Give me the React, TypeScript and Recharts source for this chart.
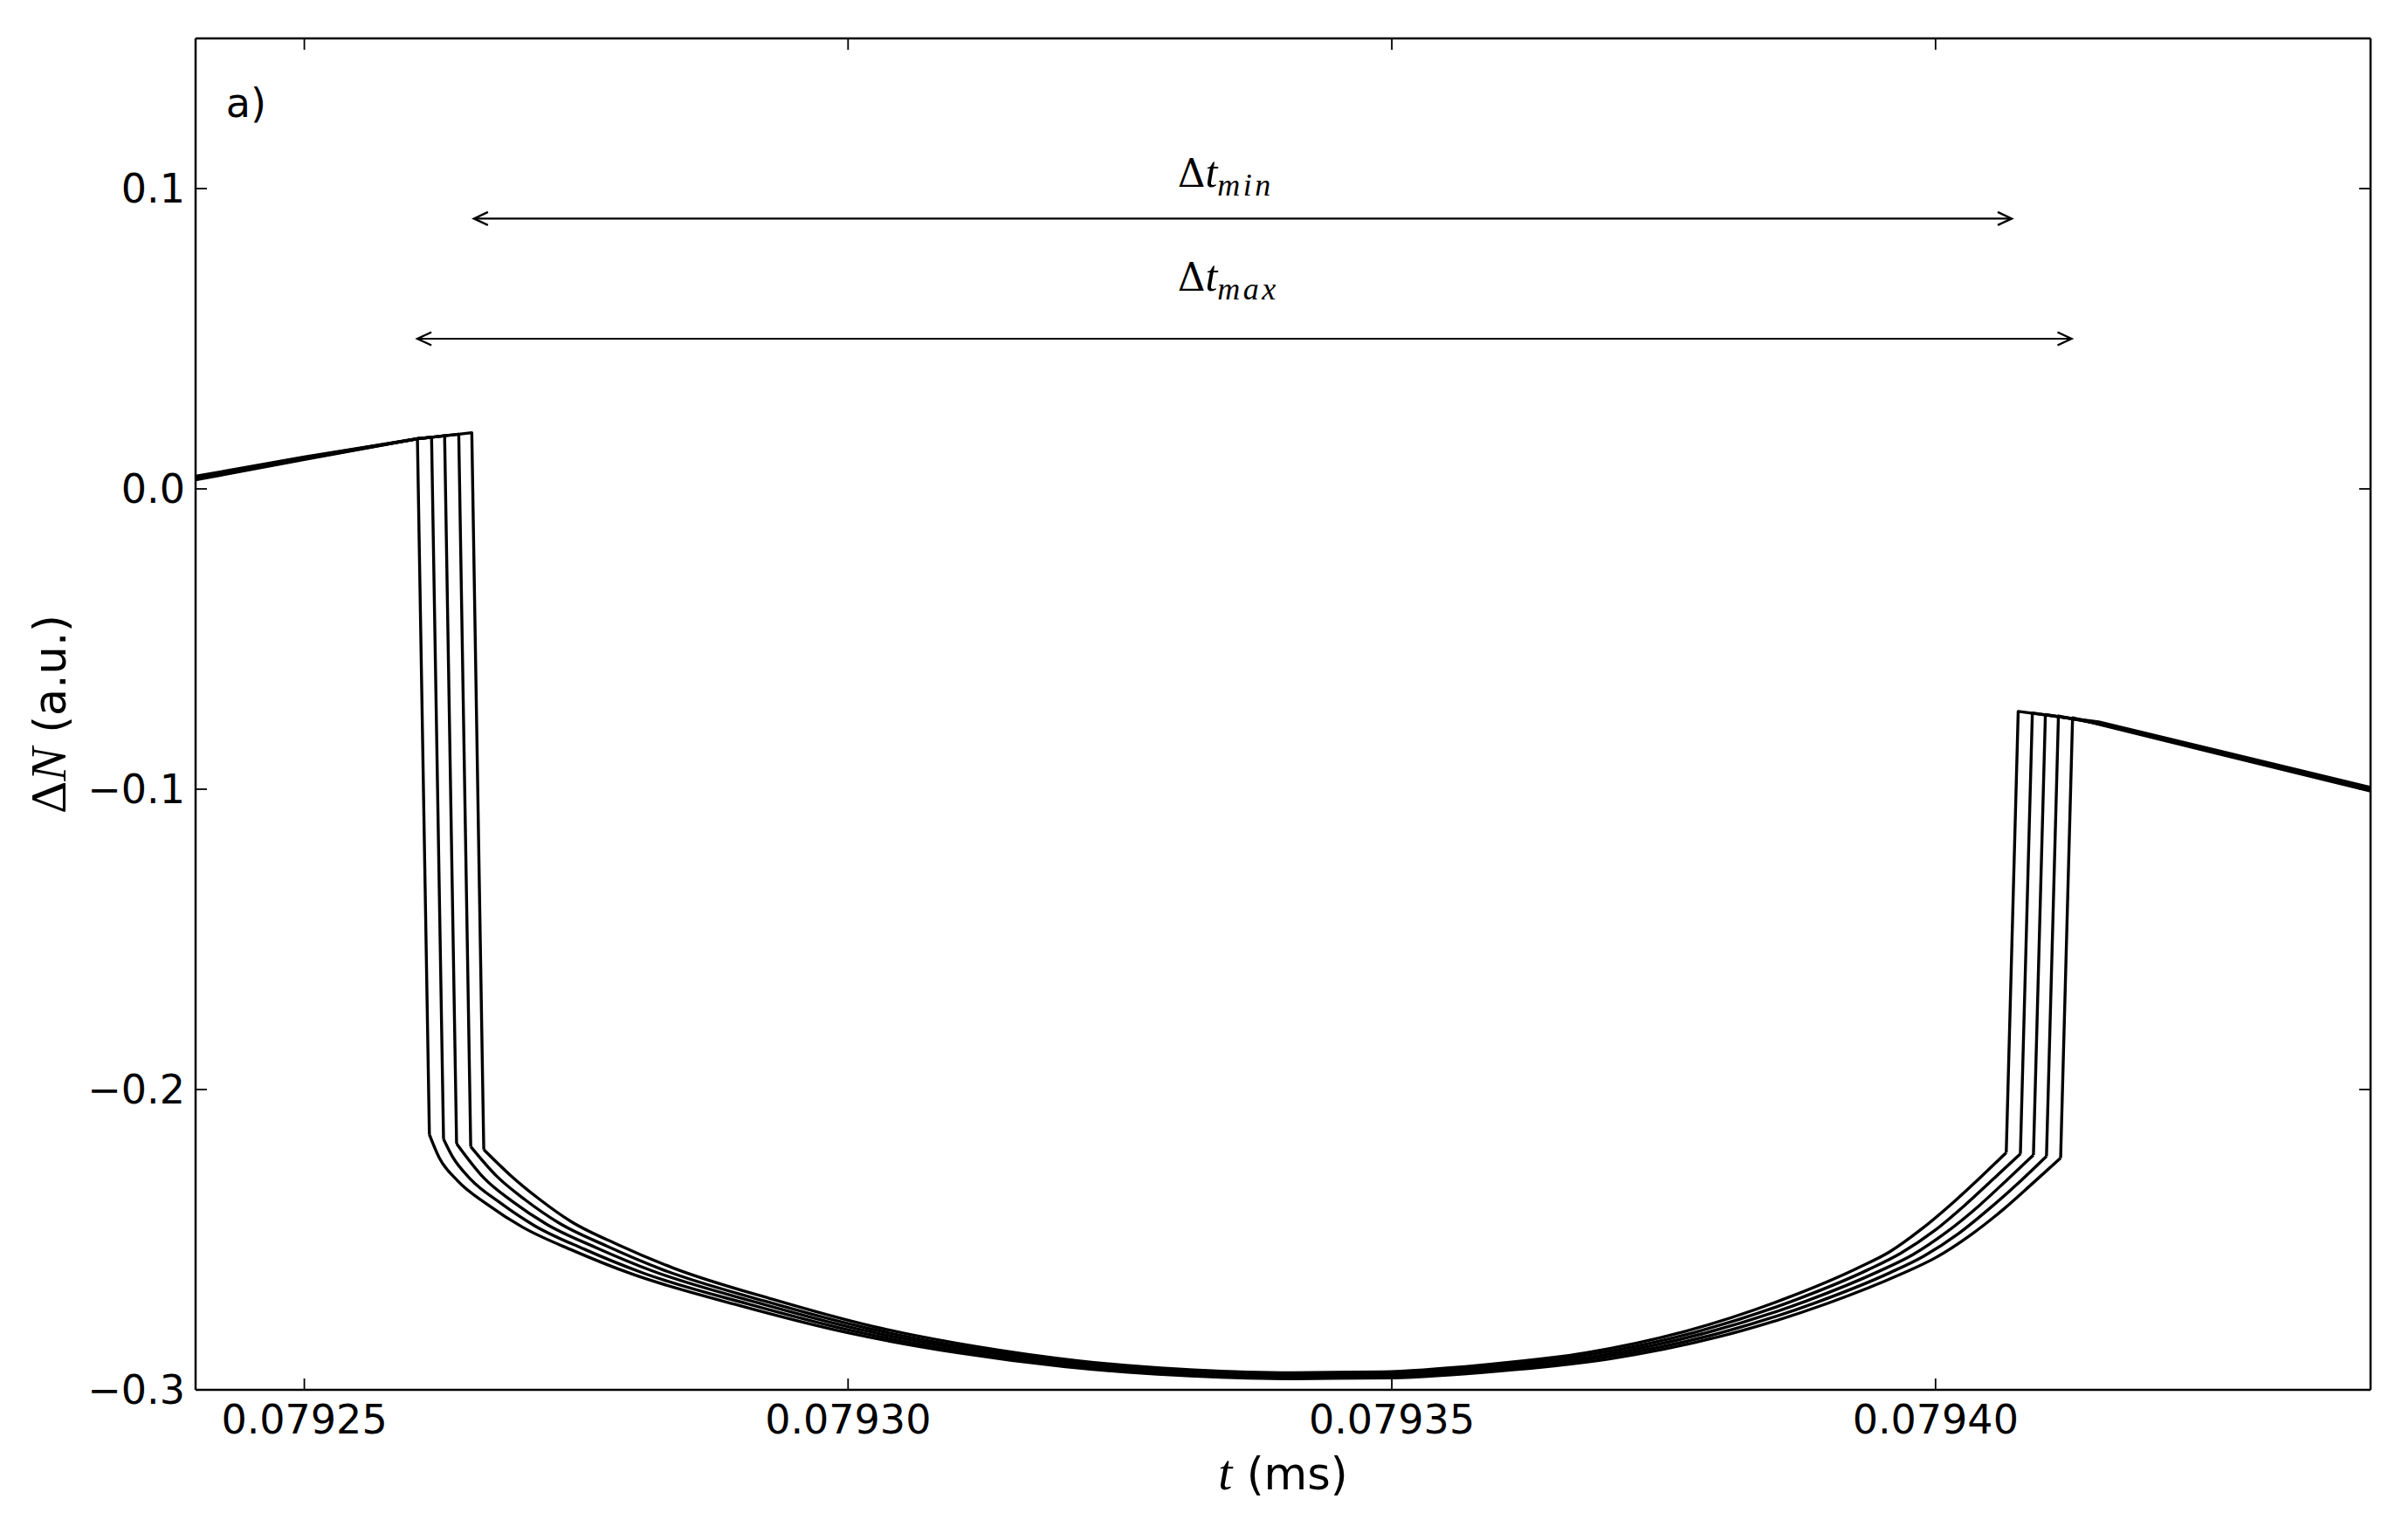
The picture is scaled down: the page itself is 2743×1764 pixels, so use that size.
import React from 'react';
import { LineChart, Line, XAxis, YAxis, ReferenceLine, ReferenceDot } from 'recharts';

// ---- axes ----
const xDomain = [0.07924, 0.07944];
const yDomain = [-0.3, 0.15];
const xTicks = [0.07925, 0.0793, 0.07935, 0.0794];
const xTickLabels = ['0.07925', '0.07930', '0.07935', '0.07940'];
const yTicks = [0.1, 0, -0.1, -0.2, -0.3];
const yTickLabels = ['0.1', '0.0', '\u22120.1', '\u22120.2', '\u22120.3'];

// ---- series: [t (ms), ΔN (a.u.)] ----
const curve0 = [
  [0.07924, 0.003], [0.07925, 0.0098], [0.0792604, 0.0167],
  [0.0792615, -0.215], [0.0792624, -0.2227], [0.0792641, -0.2304], [0.0792668, -0.2382],
  [0.0792701, -0.2459], [0.0792747, -0.2536], [0.0792801, -0.2614], [0.07929, -0.2719],
  [0.0793, -0.281], [0.07931, -0.2876], [0.07932, -0.2923], [0.07933, -0.2951],
  [0.07934, -0.2963], [0.07935, -0.296], [0.07936, -0.2937], [0.07937, -0.2897],
  [0.07938, -0.2824], [0.07939, -0.2713], [0.0793968, -0.2615], [0.0794, -0.256],
  [0.0794032, -0.2485], [0.0794062, -0.24], [0.079409, -0.231],
  [0.0794115, -0.2228], [0.0794126, -0.0762], [0.079415, -0.0784], [0.07944, -0.1006],
];
const curve1 = [
  [0.07924, 0.0033], [0.07925, 0.01], [0.0792604, 0.0167], [0.0792617, 0.0172],
  [0.0792628, -0.2165], [0.0792636, -0.2222], [0.0792653, -0.2299], [0.079268, -0.2377],
  [0.0792712, -0.2454], [0.0792757, -0.2531], [0.079281, -0.2609], [0.0792908, -0.2714],
  [0.0793006, -0.2805], [0.0793104, -0.2871], [0.0793203, -0.2918], [0.0793301, -0.2946],
  [0.0793399, -0.2958], [0.0793498, -0.2955], [0.0793596, -0.2932], [0.0793694, -0.2892],
  [0.0793793, -0.2819], [0.0793891, -0.2708], [0.0793958, -0.261], [0.0793989, -0.2555],
  [0.0794021, -0.248], [0.079405, -0.2395], [0.0794078, -0.2305],
  [0.0794102, -0.2222], [0.0794113, -0.0756], [0.079415, -0.0782], [0.07944, -0.1003],
];
const curve2 = [
  [0.07924, 0.0036], [0.07925, 0.0102], [0.0792604, 0.0167], [0.0792617, 0.0172],
  [0.0792629, 0.0177], [0.079264, -0.218], [0.0792665, -0.2294], [0.0792691, -0.2372],
  [0.0792723, -0.2449], [0.0792768, -0.2526], [0.079282, -0.2604], [0.0792916, -0.2709],
  [0.0793012, -0.28], [0.0793109, -0.2866], [0.0793206, -0.2913], [0.0793302, -0.2941],
  [0.0793399, -0.2953], [0.0793495, -0.295], [0.0793592, -0.2927], [0.0793689, -0.2887],
  [0.0793785, -0.2814], [0.0793882, -0.2703], [0.0793948, -0.2605], [0.0793979, -0.255],
  [0.079401, -0.2475], [0.0794039, -0.239], [0.0794066, -0.23],
  [0.079409, -0.2218], [0.0794101, -0.0751], [0.079415, -0.078], [0.07944, -0.1],
];
const curve3 = [
  [0.07924, 0.0039], [0.07925, 0.0104], [0.0792604, 0.0167], [0.0792617, 0.0172],
  [0.0792629, 0.0177], [0.0792642, 0.0182], [0.0792653, -0.219], [0.0792677, -0.2289],
  [0.0792703, -0.2367], [0.0792734, -0.2444], [0.0792778, -0.2521], [0.0792829, -0.2599],
  [0.0792923, -0.2704], [0.0793018, -0.2795], [0.0793113, -0.2861], [0.0793208, -0.2908],
  [0.0793303, -0.2936], [0.0793398, -0.2948], [0.0793493, -0.2945], [0.0793588, -0.2922],
  [0.0793683, -0.2882], [0.0793778, -0.2809], [0.0793873, -0.2698], [0.0793938, -0.26],
  [0.0793968, -0.2545], [0.0793999, -0.247], [0.0794027, -0.2385], [0.0794054, -0.2295],
  [0.0794078, -0.2214], [0.0794089, -0.0746], [0.079415, -0.0778],
  [0.07944, -0.0997],
];
const curve4 = [
  [0.07924, 0.0042], [0.07925, 0.0106], [0.0792604, 0.0167], [0.0792617, 0.0172],
  [0.0792629, 0.0177], [0.0792642, 0.0182], [0.0792654, 0.0187], [0.0792665, -0.22],
  [0.0792689, -0.2284], [0.0792715, -0.2362], [0.0792745, -0.2439], [0.0792788, -0.2516],
  [0.0792839, -0.2594], [0.0792931, -0.2699], [0.0793024, -0.279], [0.0793118, -0.2856],
  [0.0793211, -0.2903], [0.0793304, -0.2931], [0.0793398, -0.2943], [0.0793491, -0.294],
  [0.0793584, -0.2917], [0.0793678, -0.2877], [0.0793771, -0.2804], [0.0793864, -0.2693],
  [0.0793928, -0.2595], [0.0793958, -0.254], [0.0793987, -0.2465], [0.0794015, -0.238],
  [0.0794042, -0.229], [0.0794065, -0.221], [0.0794076, -0.0741],
  [0.079415, -0.0776], [0.07944, -0.0994],
];

// ---- annotations ----
const arrowMin = { t0: 0.0792656, t1: 0.079407, y: 0.09 };
const arrowMax = { t0: 0.0792604, t1: 0.0794125, y: 0.05 };
const labelMin = { t: 0.0793303, y: 0.1007, sub: 'min' };
const labelMax = { t: 0.0793303, y: 0.0659, sub: 'max' };
const panelLabel = { t: 0.0792428, y: 0.1237, text: 'a)' };

// split each pulse into: flat part + fall, smooth trough, rise + flat part
const toPts = (c: number[][]) => c.map(([t, y]) => ({ t, y }));
const splitCurve = (c: number[][]) => {
  let i = 0;
  while (i < c.length - 1 && !(c[i][1] - c[i + 1][1] > 0.1)) i++;
  let j = i + 1;
  while (j < c.length - 1 && !(c[j + 1][1] - c[j][1] > 0.1)) j++;
  return {
    left: toPts(c.slice(0, i + 2)),
    trough: toPts(c.slice(i + 1, j + 1)),
    right: toPts(c.slice(j)),
  };
};
const pulses = [curve0, curve1, curve2, curve3, curve4].map(splitCurve);

const SANS = "'DejaVu Sans', sans-serif";
const SERIF = "'Liberation Serif', 'DejaVu Serif', serif";
const TICK_LEN = 13;
const X_MARGIN = 15;
const Y_MARGIN = 12;
const LINE_W = 3.4;

const findIdx = (arr: number[], v: number) => arr.findIndex((a) => Math.abs(a - v) < 1e-10);

function BottomTick(props: any) {
  const { x, y, payload } = props;
  const i = findIdx(xTicks, payload.value);
  const axisY = y - X_MARGIN;
  return (
    <g>
      <line x1={x} y1={axisY} x2={x} y2={axisY - TICK_LEN} stroke="#000" strokeWidth={1.8} />
      <text x={x} y={axisY + 50} textAnchor="middle" fontFamily={SANS} fontSize={46} fill="#000">
        {i >= 0 ? xTickLabels[i] : ''}
      </text>
    </g>
  );
}
function TopTick(props: any) {
  const { x, y } = props;
  return <line x1={x} y1={y} x2={x} y2={y + TICK_LEN} stroke="#000" strokeWidth={1.8} />;
}
function LeftTick(props: any) {
  const { x, y, payload } = props;
  const i = findIdx(yTicks, payload.value);
  const axisX = x + Y_MARGIN;
  return (
    <g>
      <line x1={axisX} y1={y} x2={axisX + TICK_LEN} y2={y} stroke="#000" strokeWidth={1.8} />
      <text x={axisX - 12} y={y} dy={16} textAnchor="end" fontFamily={SANS} fontSize={46} fill="#000">
        {i >= 0 ? yTickLabels[i] : ''}
      </text>
    </g>
  );
}
function RightTick(props: any) {
  const { x, y } = props;
  return <line x1={x} y1={y} x2={x - TICK_LEN} y2={y} stroke="#000" strokeWidth={1.8} />;
}

function XLabel(props: any) {
  const vb = props.viewBox || { x: 216, y: 1584, width: 2491, height: 120 };
  const cx = vb.x + vb.width / 2;
  const by = vb.y + 114;
  return (
    <text x={cx} y={by} textAnchor="middle" fill="#000">
      <tspan fontFamily={SERIF} fontStyle="italic" fontSize={58}>t</tspan>
      <tspan fontFamily={SANS} fontSize={51}> (ms)</tspan>
    </text>
  );
}
function YLabel(props: any) {
  const vb = props.viewBox || { x: 16, y: 36, width: 200, height: 1548 };
  const bx = vb.x + vb.width - 149;
  const cy = vb.y + vb.height / 2;
  return (
    <text x={bx} y={cy} textAnchor="middle" fill="#000" transform={`rotate(-90 ${bx} ${cy})`}>
      <tspan fontFamily={SERIF} fontSize={58}>Δ</tspan>
      <tspan fontFamily={SERIF} fontStyle="italic" fontSize={58}>N</tspan>
      <tspan fontFamily={SANS} fontSize={51}> (a.u.)</tspan>
    </text>
  );
}

function ArrowShape(props: any) {
  const { x1, y1, x2, y2 } = props;
  const h = 16;
  const w = 7.5;
  return (
    <g>
      <line x1={x1} y1={y1} x2={x2} y2={y2} stroke="#000" strokeWidth={2.2} />
      <polyline points={`${x1 + h},${y1 - w} ${x1},${y1} ${x1 + h},${y1 + w}`} fill="none" stroke="#000" strokeWidth={2.4} />
      <polyline points={`${x2 - h},${y2 - w} ${x2},${y2} ${x2 - h},${y2 + w}`} fill="none" stroke="#000" strokeWidth={2.4} />
    </g>
  );
}

const makeDeltaLabel = (sub: string) => (props: any) => {
  const { cx, cy } = props;
  return (
    <text x={cx} y={cy} textAnchor="start" fill="#000">
      <tspan fontFamily="'DejaVu Serif', serif" fontSize={44}>Δ</tspan>
      <tspan fontFamily={SERIF} fontStyle="italic" fontSize={50}>t</tspan>
      <tspan fontFamily={SERIF} fontStyle="italic" fontSize={36} letterSpacing={3.5} dy={10}>{sub}</tspan>
    </text>
  );
};

const PanelText = (props: any) => {
  const { cx, cy } = props;
  return (
    <text x={cx} y={cy} textAnchor="start" fontFamily={SANS} fontSize={46} fill="#000">
      {panelLabel.text}
    </text>
  );
};

const lineProps = {
  dataKey: 'y',
  stroke: '#000',
  strokeWidth: LINE_W,
  dot: false,
  activeDot: false,
  isAnimationActive: false,
  strokeLinejoin: 'round' as const,
};

export default function App() {
  return (
    <LineChart width={2720} height={1740} margin={{ top: 26, right: 8, bottom: 36, left: 16 }}>
      <XAxis
        dataKey="t"
        type="number"
        domain={xDomain}
        ticks={xTicks}
        interval={0}
        allowDataOverflow
        height={120}
        tickLine={false}
        tickSize={0}
        tickMargin={X_MARGIN}
        tick={BottomTick}
        axisLine={{ stroke: '#000', strokeWidth: 2.5 }}
        label={XLabel}
      />
      <XAxis
        xAxisId="top"
        orientation="top"
        dataKey="t"
        type="number"
        domain={xDomain}
        ticks={xTicks}
        interval={0}
        allowDataOverflow
        height={10}
        tickLine={false}
        tickSize={0}
        tickMargin={0}
        tick={TopTick}
        axisLine={{ stroke: '#000', strokeWidth: 2.5 }}
      />
      <YAxis
        type="number"
        domain={yDomain}
        ticks={yTicks}
        interval={0}
        allowDataOverflow
        width={200}
        tickLine={false}
        tickSize={0}
        tickMargin={Y_MARGIN}
        tick={LeftTick}
        axisLine={{ stroke: '#000', strokeWidth: 2.5 }}
        label={YLabel}
      />
      <YAxis
        yAxisId="right"
        orientation="right"
        type="number"
        domain={yDomain}
        ticks={yTicks}
        interval={0}
        allowDataOverflow
        width={5}
        tickLine={false}
        tickSize={0}
        tickMargin={0}
        tick={RightTick}
        axisLine={{ stroke: '#000', strokeWidth: 2.5 }}
      />
      {pulses.map((p, i) => (
        <Line key={`l${i}`} data={p.left} type="linear" {...lineProps} />
      ))}
      {pulses.map((p, i) => (
        <Line key={`t${i}`} data={p.trough} type="monotone" {...lineProps} />
      ))}
      {pulses.map((p, i) => (
        <Line key={`r${i}`} data={p.right} type="linear" {...lineProps} />
      ))}
      <ReferenceLine
        segment={[{ x: arrowMin.t0, y: arrowMin.y }, { x: arrowMin.t1, y: arrowMin.y }]}
        shape={ArrowShape}
      />
      <ReferenceLine
        segment={[{ x: arrowMax.t0, y: arrowMax.y }, { x: arrowMax.t1, y: arrowMax.y }]}
        shape={ArrowShape}
      />
      <ReferenceDot x={labelMin.t} y={labelMin.y} r={1} shape={makeDeltaLabel(labelMin.sub)} />
      <ReferenceDot x={labelMax.t} y={labelMax.y} r={1} shape={makeDeltaLabel(labelMax.sub)} />
      <ReferenceDot x={panelLabel.t} y={panelLabel.y} r={1} shape={PanelText} />
    </LineChart>
  );
}
